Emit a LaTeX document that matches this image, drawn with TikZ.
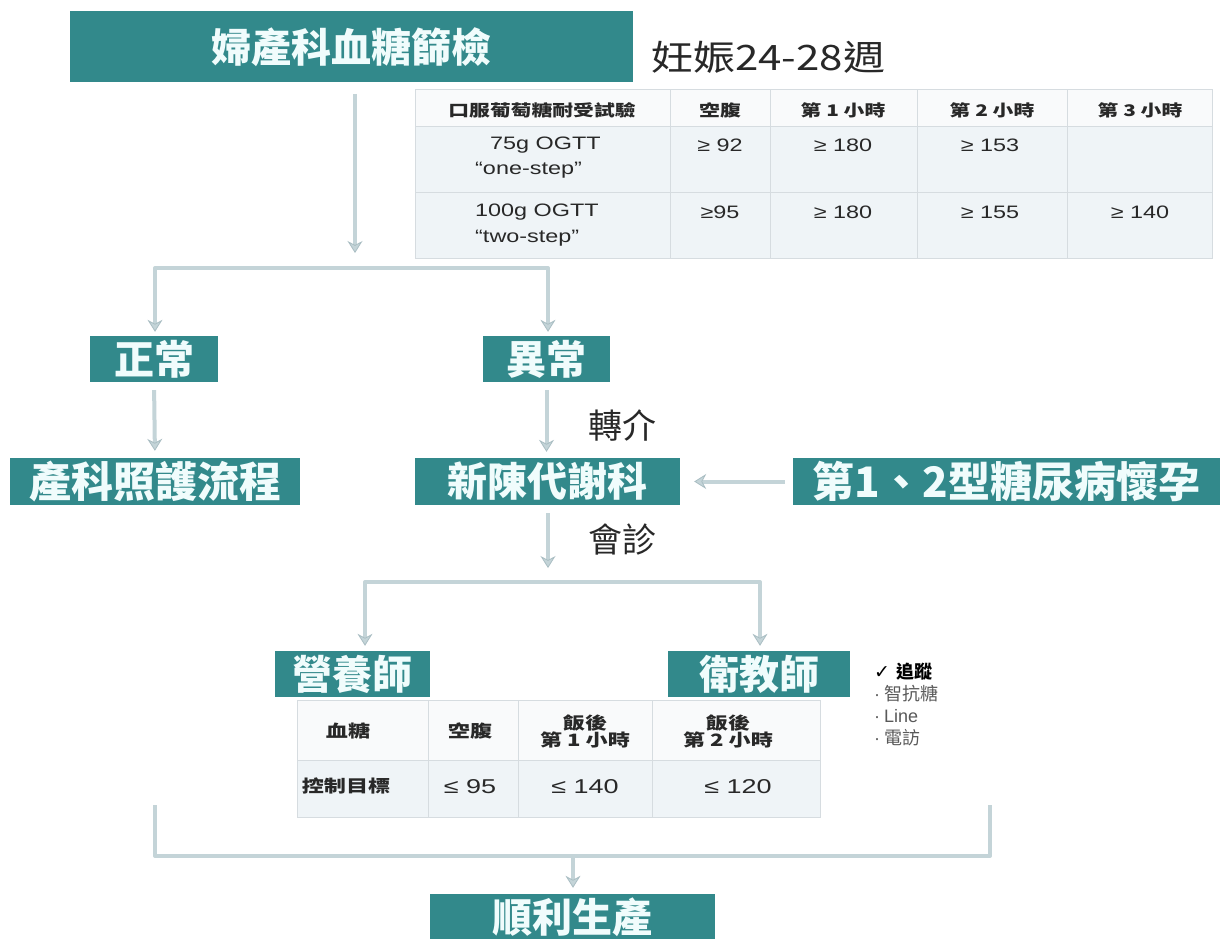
\documentclass[tikz,border=0pt]{standalone}
\usepackage{fontspec}
\usepackage{graphicx}
\setmainfont{Liberation Sans}
\newfontfamily\cjk{Noto Sans CJK TC}
\newfontfamily\dejavu{DejaVu Sans}
\usetikzlibrary{arrows.meta}
\definecolor{teal0}{RGB}{50,137,139}
\definecolor{arrc}{RGB}{196,212,216}
\definecolor{arrd}{RGB}{170,190,195}
\definecolor{tfill}{RGB}{239,244,247}
\definecolor{thead}{RGB}{249,250,251}
\definecolor{tline}{RGB}{214,220,224}
\definecolor{txt}{RGB}{40,40,40}
\definecolor{boxtxt}{RGB}{240,252,252}
\newcommand{\myfs}[1]{\fontsize{#1pt}{#1pt}\selectfont}
\newcommand{\myx}[2][1.3]{\scalebox{#1}[1]{#2}}
\begin{document}
\begin{tikzpicture}[x=1pt,y=-1pt,
  tbox/.style={fill=teal0,text=boxtxt,inner sep=0pt,font=\cjk\bfseries\myfs{40}},
  arr/.style={draw=arrc,line width=4pt,line join=round,-{Stealth[length=12pt,width=15pt,inset=4pt,fill=arrc,color=arrd,line width=0.8pt]}},
  ln/.style={draw=arrc,line width=4pt,line join=round},
  lbl/.style={font=\cjk\myfs{34},text=txt,inner sep=0pt},
  th/.style={font=\cjk\bfseries\myfs{16},text=txt,inner sep=0pt,align=center},
  tv/.style={font=\myfs{18},text=txt,inner sep=0pt},
  grid/.style={draw=tline,line width=1pt},
  lst/.style={anchor=west,inner sep=0pt,font=\cjk\myfs{18},text=black!65}
]
\path[use as bounding box] (0,0) rectangle (1226,939);
\fill[white] (0,0) rectangle (1226,939);

% ---- top box and label
\node[tbox,minimum width=563pt,minimum height=71pt] (screen) at (351.5,47) {婦產科血糖篩檢};
\node[lbl,anchor=west,font=\cjk\myfs{35}] (week) at (651,57) {\myx[1.2]{妊娠24-28週}};

% ---- top table
\fill[thead] (415,90) rectangle (1212,127);
\fill[tfill] (415,127) rectangle (1212,258);
\draw[grid] (415,90) rectangle (1212,258);
\draw[grid] (415,127) -- (1212,127) (415,192) -- (1212,192);
\foreach \xx in {670,770,917,1067} \draw[grid] (\xx,90) -- (\xx,258);
\node[th] (h1) at (542,110) {\myx{口服葡萄糖耐受試驗}};
\node[th] (h2) at (720,110) {\myx{空腹}};
\node[th] (h3) at (843,110) {\myx{第 1 小時}};
\node[th] (h4) at (992,110) {\myx{第 2 小時}};
\node[th] (h5) at (1140,110) {\myx{第 3 小時}};
\node[tv,anchor=west] (r1a) at (490,145) {\myx{75g OGTT}};
\node[tv,anchor=west] (r1b) at (475,170) {\myx{“one-step”}};
\node[tv] (r1c) at (720,145) {\myx{≥ 92}};
\node[tv] (r1d) at (843,145) {\myx{≥ 180}};
\node[tv] (r1e) at (990,145) {\myx{≥ 153}};
\node[tv,anchor=west] (r2a) at (475,212) {\myx{100g OGTT}};
\node[tv,anchor=west] (r2b) at (475,238) {\myx{“two-step”}};
\node[tv] (r2c) at (720,212) {\myx{≥95}};
\node[tv] (r2d) at (843,212) {\myx{≥ 180}};
\node[tv] (r2e) at (990,212) {\myx{≥ 155}};
\node[tv] (r2f) at (1140,212) {\myx{≥ 140}};

% ---- flow boxes
\node[tbox,minimum width=128pt,minimum height=46pt] (normal) at (154,359) {正常};
\node[tbox,minimum width=127pt,minimum height=46pt] (abn) at (546.5,359) {異常};
\node[tbox,minimum width=290pt,minimum height=47pt,font=\cjk\bfseries\myfs{42}] (care) at (155,481.5) {產科照護流程};
\node[tbox,minimum width=265pt,minimum height=47pt] (endo) at (547.5,481.5) {新陳代謝科};
\node[tbox,minimum width=427pt,minimum height=47pt,font=\cjk\bfseries\myfs{42}] (type) at (1006.5,481.5) {第1、2型糖尿病懷孕};
\node[tbox,minimum width=155pt,minimum height=46pt] (diet) at (352.5,674) {營養師};
\node[tbox,minimum width=182pt,minimum height=46pt] (edu) at (759,674) {衛教師};
\node[tbox,minimum width=285pt,minimum height=46pt] (birth) at (572.5,917) {順利生產};

\node[lbl] (refer) at (622,425) {轉介};
\node[lbl] (consult) at (622,540) {會診};

% ---- connectors
\coordinate (a1) at (355,94);
\draw[arr] (a1) -- (355,253);
\coordinate (b1) at (155,268);
\coordinate (b2) at (548,268);
\draw[arr,shorten >=4pt] (b2) -- (b1) -- (b1 |- normal.north);
\draw[arr,shorten >=4pt] (b1) -- (b2) -- (b2 |- abn.north);
\draw[arr,shorten <=8pt,shorten >=7pt] (normal.south) -- (care.north);
\draw[arr,shorten <=8pt,shorten >=6pt] (abn.south) -- (abn.south |- endo.north);
\draw[arr,shorten <=8pt,shorten >=14pt] (type.west) -- (endo.east);
\coordinate (c0) at (548,568);
\draw[arr,shorten <=8pt] (endo.south -| c0) -- (c0);
\coordinate (c1) at (365,582);
\coordinate (c2) at (760,582);
\draw[arr,shorten >=5pt] (c2) -- (c1) -- (c1 |- diet.north);
\draw[arr,shorten >=5pt] (c1) -- (c2) -- (c2 |- edu.north);

% ---- bottom table
\fill[thead] (297,700) rectangle (820,760);
\fill[tfill] (297,760) rectangle (820,817);
\draw[grid] (297,700) rectangle (820,817);
\draw[grid] (297,760) -- (820,760);
\foreach \xx in {428,518,652} \draw[grid] (\xx,700) -- (\xx,817);
\node[th,font=\cjk\bfseries\myfs{17}] (g1) at (348,731) {\myx{血糖}};
\node[th,font=\cjk\bfseries\myfs{17}] (g2) at (470,731) {\myx{空腹}};
\node[th,font=\cjk\bfseries\myfs{17}] (g3) at (585,731) {\myx{飯後}\\\myx{第 1 小時}};
\node[th,font=\cjk\bfseries\myfs{17}] (g4) at (728,731) {\myx{飯後}\\\myx{第 2 小時}};
\node[th,font=\cjk\bfseries\myfs{17}] (g5) at (346,786) {\myx{控制目標}};
\node[tv,font=\myfs{20}] (g6) at (470,787) {\myx[1.35]{≤ 95}};
\node[tv,font=\myfs{20}] (g7) at (585,787) {\myx[1.35]{≤ 140}};
\node[tv,font=\myfs{20}] (g8) at (738,787) {\myx[1.35]{≤ 120}};

% ---- follow-up list
\node[lst,text=black] (chk) at (874,672) {{\dejavu\bfseries\myfs{19}✓}\hspace{6pt}{\bfseries 追蹤}};
\node[lst] (l1) at (874,694) {{\rmfamily ·}\hspace{4pt}智抗糖};
\node[lst] (l2) at (874,716) {{\rmfamily ·}\hspace{4pt}{\rmfamily Line}};
\node[lst] (l3) at (874,738) {{\rmfamily ·}\hspace{4pt}電訪};

% ---- bottom bracket
\coordinate (d1) at (155,805);
\coordinate (d2) at (155,856);
\coordinate (d3) at (990,856);
\coordinate (d4) at (990,805);
\draw[ln] (d1) -- (d2) -- (d3) -- (d4);
\coordinate (d5) at (573,856);
\draw[arr,shorten >=6pt] (d5) -- (d5 |- birth.north);
\end{tikzpicture}
\end{document}
